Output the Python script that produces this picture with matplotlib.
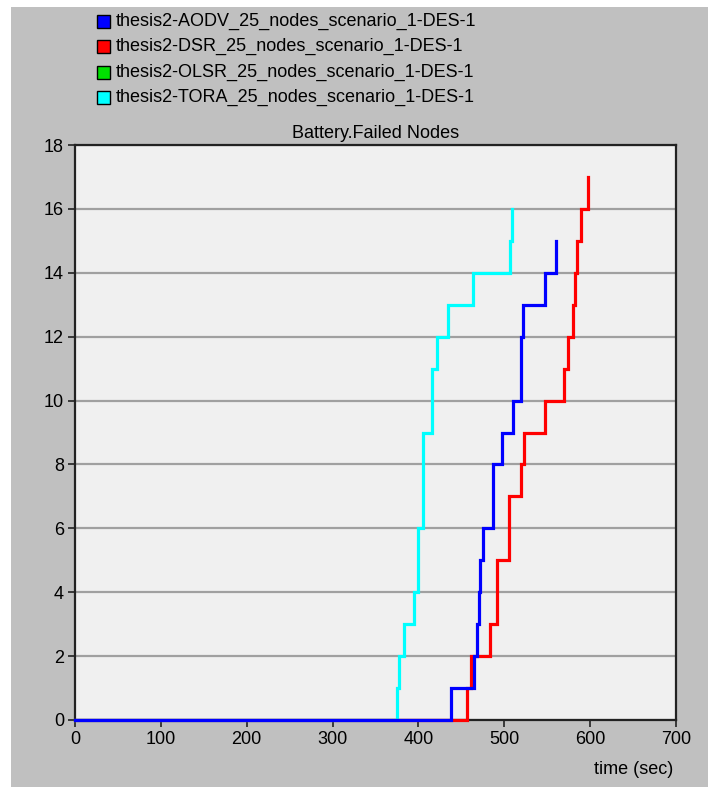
import matplotlib
matplotlib.use("Agg")
import matplotlib.pyplot as plt
from matplotlib.patches import Rectangle

plt.rcParams['font.family'] = ['Liberation Sans', 'DejaVu Sans']

labels = ["thesis2-AODV_25_nodes_scenario_1-DES-1",
          "thesis2-DSR_25_nodes_scenario_1-DES-1",
          "thesis2-OLSR_25_nodes_scenario_1-DES-1",
          "thesis2-TORA_25_nodes_scenario_1-DES-1"]
colors = ["#0000ff", "#ff0000", "#00e000", "#00ffff"]

aodv_t = [0, 438, 465, 468, 471, 472, 475, 487, 497, 510, 519, 522, 548, 560]
aodv_v = [0, 1, 2, 3, 4, 5, 6, 8, 9, 10, 12, 13, 14, 15]
dsr_t = [0, 456, 461, 483, 491, 492, 505, 519, 522.5, 548, 570, 574, 580, 582, 585, 589, 598]
dsr_v = [0, 1, 2, 3, 4, 5, 7, 8, 9, 10, 11, 12, 13, 14, 15, 16, 17]
olsr_t = []
olsr_v = []
tora_t = [0, 375, 377, 383, 395, 399, 405, 416, 422, 435, 463, 507, 509]
tora_v = [0, 1, 2, 3, 4, 6, 9, 11, 12, 13, 14, 15, 16]

title = "Battery.Failed Nodes"
xlabel = "time (sec)"
xticks = [0, 100, 200, 300, 400, 500, 600, 700]
yticks = [0, 2, 4, 6, 8, 10, 12, 14, 16, 18]

FS = 13
W, H = 708, 787
fig = plt.figure(figsize=(W / 100, H / 100), dpi=100)
fig.patch.set_facecolor("white")
fig.patches.append(Rectangle((11 / W, 0), 1 - 11 / W, 1 - 7 / H,
                             transform=fig.transFigure, facecolor="#c0c0c0",
                             edgecolor="none", zorder=-10))

ax = fig.add_axes([75 / W, (H - 720) / H, 601 / W, 575 / H])
ax.set_zorder(1)
ax.set_facecolor("#f0f0f0")
ax.set_xlim(0, 700)
ax.set_ylim(0, 18)
ax.set_xticks(xticks)
ax.set_yticks(yticks)
ax.tick_params(axis="both", direction="out", length=5, width=1.2, colors="#222222",
               labelsize=FS, pad=3, labelcolor="black")
ax.yaxis.grid(True, color="#a0a0a0", linewidth=1.6)
ax.xaxis.grid(False)
ax.set_axisbelow(True)
for s in ax.spines.values():
    s.set_color("#222222")
    s.set_linewidth(1.6)

series = [(tora_t, tora_v, colors[3]), (olsr_t, olsr_v, colors[2]),
          (dsr_t, dsr_v, colors[1]), (aodv_t, aodv_v, colors[0])]
for t, v, c in series:
    if len(t):
        ax.plot(t, v, drawstyle="steps-post", color=c, linewidth=2.3,
                solid_joinstyle="miter", clip_on=False, zorder=3)

# legend
row_y = [21, 46.5, 72, 97.5]
for lab, c, yy in zip(labels, colors, row_y):
    fig.patches.append(Rectangle((97 / W, 1 - (yy + 6.5) / H), 13 / W, 13 / H,
                                 transform=fig.transFigure, facecolor=c,
                                 edgecolor="black", linewidth=1.0, zorder=3))
    fig.text(116 / W, 1 - yy / H, lab, ha="left", va="center", fontsize=FS,
             color="black")

fig.text(375.5 / W, 1 - 133 / H, title, ha="center", va="center", fontsize=FS,
         color="black")
fig.text(673 / W, 1 - 770 / H, xlabel, ha="right", va="center", fontsize=FS,
         color="black")

fig.savefig("out.png", dpi=100, facecolor=fig.get_facecolor())
